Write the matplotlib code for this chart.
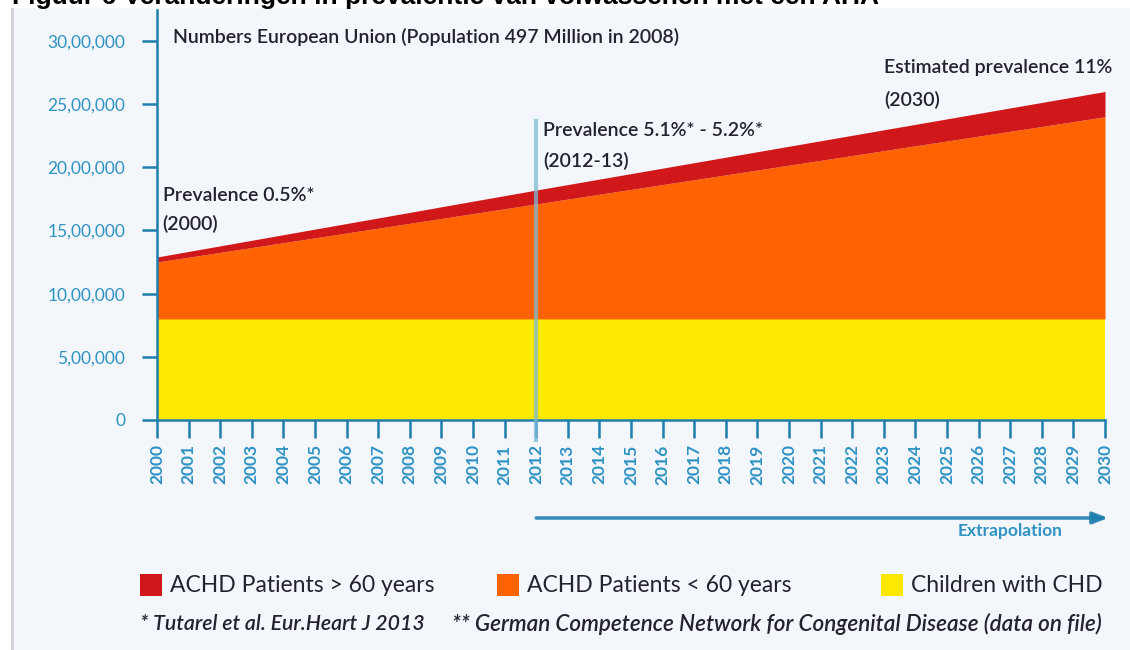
import matplotlib.pyplot as plt
from matplotlib.patches import Rectangle
import numpy as np

plt.rcParams['font.family'] = ['Lato', 'DejaVu Sans']

# values (number of people)
years = [2000, 2012, 2030]
children_chd = [800000, 800000, 800000]
achd_under60 = [450000, 910000, 1600000]
achd_over60 = [40000, 110000, 200000]

year_ticks = list(range(2000, 2031))
y_ticks = [0, 500000, 1000000, 1500000, 2000000, 2500000, 3000000]
y_labels = ["0", "5,00,000", "10,00,000", "15,00,000", "20,00,000", "25,00,000", "30,00,000"]

legend_labels = ["ACHD Patients > 60 years", "ACHD Patients < 60 years", "Children with CHD"]

red = '#d0181a'
orange = '#ff6200'
yellow = '#fde900'
blue = '#1f7fae'
label_blue = '#2f93c4'
text_dark = '#23232f'
panel = '#f3f6fa'

W, H = 1130, 650
fig = plt.figure(figsize=(W / 100, H / 100), dpi=100, facecolor='white')

# panel background with grey left border
fig.patches.append(Rectangle((12 / W, 0), 1 - 12 / W, 1 - 8 / H, transform=fig.transFigure,
                             facecolor=panel, edgecolor='none', zorder=-2))
fig.patches.append(Rectangle((11 / W, 0), 3 / W, 1 - 8 / H, transform=fig.transFigure,
                             facecolor='#d2d4d8', edgecolor='none', zorder=-1))

# heading, cut off at the top edge as in the source
fig.text(12 / W, 1 - 4 / H, "Figuur 6 Veranderingen in prevalentie van volwassenen met een AHA",
         fontsize=19, fontweight='bold', family='Liberation Sans', color='black',
         ha='left', va='baseline')

ax = fig.add_axes([157 / W, 1 - 420 / H, (1105 - 157) / W, (420 - 10) / H])
ax.set_facecolor('none')

yr = np.array(years)
c = np.array(children_chd)
u = c + np.array(achd_under60)
o = u + np.array(achd_over60)
ax.fill_between(yr, 0, c, color=yellow, lw=0)
ax.fill_between(yr, c, u, color=orange, lw=0)
ax.fill_between(yr, u, o, color=red, lw=0)

ax.set_xlim(2000, 2030)
ax.set_ylim(0, 3245000)

# 2012 marker line
ax.plot([2012, 2012], [-160000, 2370000], color='#7dbad6', lw=3, alpha=0.75,
        zorder=3, clip_on=False)

for s in ['top', 'right']:
    ax.spines[s].set_visible(False)
for s in ['left', 'bottom']:
    ax.spines[s].set_color(blue)
    ax.spines[s].set_linewidth(1.8)

ax.set_yticks(y_ticks)
ax.set_yticklabels(y_labels)
ax.set_xticks(year_ticks)
ax.set_xticklabels([str(y) for y in year_ticks], rotation=90)
ax.tick_params(axis='y', length=10.8, width=1.8, color=blue, pad=12,
               labelsize=12.5, labelcolor=label_blue)
ax.tick_params(axis='x', length=13, width=1.8, color=blue, pad=4.5,
               labelsize=12.5, labelcolor=label_blue)
for t in ax.get_xticklabels():
    t.set_fontweight('bold')

# annotations
note = dict(fontsize=14, fontweight='semibold', color=text_dark, ha='left', va='center')
ax.text(2000.5, 3035000, "Numbers European Union (Population 497 Million in 2008)", **note)
ax.text(2000.18, 1780000, "Prevalence 0.5%*", **note)
ax.text(2000.18, 1550000, "(2000)", **note)
ax.text(2012.22, 2290000, "Prevalence 5.1%* - 5.2%*", **note)
ax.text(2012.22, 2050000, "(2012-13)", **note)
ax.text(2023.0, 2790000, "Estimated prevalence 11%", **note)
ax.text(2023.0, 2535000, "(2030)", **note)

# extrapolation arrow
ax.annotate("", xy=(2030.1, -0.239), xytext=(2012, -0.239),
            xycoords=('data', 'axes fraction'), textcoords=('data', 'axes fraction'),
            arrowprops=dict(arrowstyle='-|>,head_length=0.9,head_width=0.35',
                            color='#1f7fae', lw=2.5, shrinkA=0, shrinkB=0,
                            alpha=0.9),
            annotation_clip=False)
ax.text(2027.0, -0.27, "Extrapolation", transform=ax.get_xaxis_transform(),
        fontsize=12.5, color=label_blue, fontweight='bold', ha='center', va='center')

# legend row
leg_y = 1 - 585 / H
sq_w, sq_h = 22 / W, 22 / H
for x0, col, lab in [(140, red, legend_labels[0]), (497, orange, legend_labels[1]),
                     (881, yellow, legend_labels[2])]:
    fig.patches.append(Rectangle((x0 / W, leg_y - sq_h / 2), sq_w, sq_h, transform=fig.transFigure,
                                 facecolor=col, edgecolor='none'))
    fig.text((x0 + 30) / W, leg_y, lab, fontsize=16.5, color=text_dark, ha='left', va='center')

# footnotes
foot = dict(style='italic', fontweight='semibold', color=text_dark, ha='left', va='center')
fig.text(140 / W, 1 - 624 / H, "* Tutarel et al. Eur.Heart J 2013", fontsize=15.3, **foot)
fig.text(452 / W, 1 - 624 / H, "** German Competence Network for Congenital Disease (data on file)",
         fontsize=16.2, **foot)

fig.savefig('out.png', dpi=100, facecolor='white')
